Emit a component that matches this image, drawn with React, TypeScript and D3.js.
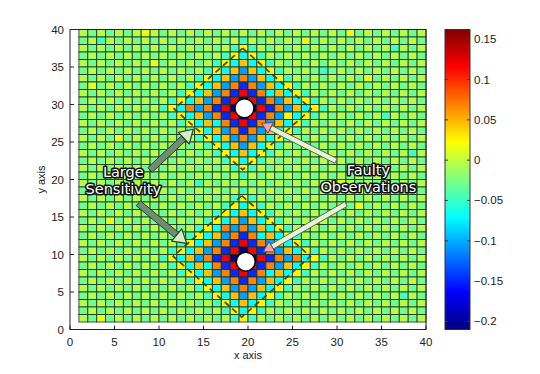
import * as d3 from 'd3'

// sensitivity map, one string per grid row, top row first (y = 39 .. 1), spaces only for reading
const gridRows = [
  'LGLGLGLyLG LGLGLGLGLG LGLGLGLGLG yGLGLGLGL',
  'GLALGLGLGL GLGLGLGLAL GLGLGyGLGL GLGLGLGLG',
  'LGLGLGLGLG LGLGLGLAYA LGLGLGLGLG LGLGLALGL',
  'GLGLGLGLGL GLGLGLAYCY ALGLGLGLGL GLGLGLGLG',
  'LGLGLGLGyG LGLGLAYCoC YALGLGLGLG LGLGLGLGL',
  'GLGLGLGLGL GLGLAYCoSo CYALGLGAGL GLGLGLGLG',
  'LGLGLGLGLG LGLAYCoSOS oCYALGLGLG LGyGLGLGL',
  'GyGLGLGLGL GLAYCoSOBO SoCYALGLGL GLGLGLGLG',
  'LGLGLGLGLG LAYCoSOBRB OCoCYALGLG LGLGLGLGL',
  'GLGLGLGLGL AYCoSOBRNR BOSoCYALGL GLGLGLGLG',
  'LGLGLGLGL AYCOSOBRNDNRBOSoCYA LGLGLGLGLGL',
  'GLGLGLGLGL AYCoSOBRNR BOSYCYALGL GLGLALGLG',
  'LGLGLGLGLG LAYCoCOBRB OSoCYALGLG LGLGLGLGL',
  'GLGLGLGLGL GLAYCoSOBO SoCYALGLGL GLGLGLGLG',
  'LGLGyGLGLG LGLAYCoSOS oCYALGLGLG LGLGLGLGL',
  'GLGLGLGLGL GLGLAYCoSo CYALGLGLGL GLGLGLGLG',
  'LGLGLGLGLG LGLGLAYCoC YALGLGLGLG LGLGLGLAL',
  'GLGLGLGLGL GLGLGLAYCY ALGLGLGLGL GLGLGLGLG',
  'LGLGLGLGLG LGLGLGLAYA LGLGLGLGLG LGLGLGLGL',
  'GLGLGLGLGL GLGLGLGLAL GLGLGLGLGL GLGLGLGLG',
  'LGLGLGLGLG LGLALGLGLG LGLGLGLGLy LGLGLGLGL',
  'GLGLGyGLGL GLGLGLGLAL GLGLGLGLGL GLGLGLGLG',
  'LGLGLGLGLG LGLGLGLAYA LGLGLGLGLG LGLGLGLGL',
  'GLGLGLGLGL GLGLGLAYCY ALGLGLGLGL GyGLGLGLG',
  'LGLGLGLGLG LGLGLAYCoC YALGLGLGLG LGLGLGLGL',
  'GLGyGLGLGL GLGLAYCoSo CYALGLGLGL GLGLGLGLG',
  'LGLGLGLGLG LGLAYCOSOS oCYALGLGLG LGLGLGLGL',
  'GLGLGLGLGL GLAYCoSOBO CoCYALGLGL GLGLGLGLG',
  'LGLGLGLGLG LAYCoSOBRB OSoCYALGLG LGLGLGLGL',
  'GLGLGLGLGL AYCoSOBRNR BOSoCYALGL GLGLGLGLG',
  'LGLGLGLGL AYCoSOBRNDNRBOSOCYA LGLGLGLGLGL',
  'GLGLGLGLGL AYCoCOBRNR BOSoCYALGL GLGLGLGLG',
  'LGLGLGLGLG LAYCoSOBRB OCoCYALGLG LGLGLGLGL',
  'GLGLGLGLGL GLAYCoSOBO SoCYALGLGL GLGLGLGLG',
  'LGLGLGLGLG LGLAYCoSOS oCYALGLGLG LGLGLGLGL',
  'GLGLGLGLGL GLGLAYCoSo CYALGLGLGL GLGLGLALG',
  'LGLGLGLGLG LGLGLAYCoC YALGLGLGLG LGLGLGLGL',
  'GLGLGLGLGL GLGLGLAYCY ALGLGLGLGL GLGLGLGLG',
  'LGyGLGLGLG LGLGLGLAYA LGLGLGLGLG LGLGLGLGL',
]

// value behind each letter
const levelValues: Record<string, number> = {
  D: 0.162, R: 0.118, O: 0.068, o: 0.045, Y: 0.026, y: 0.012, L: -0.004,
  G: -0.03, A: -0.047, C: -0.068, S: -0.105, B: -0.148, N: -0.21,
}

const xTicks = [0, 5, 10, 15, 20, 25, 30, 35, 40]
const yTicks = [0, 5, 10, 15, 20, 25, 30, 35, 40]
const cbTicks = [0.15, 0.1, 0.05, 0, -0.05, -0.1, -0.15, -0.2]

const observations = [
  { x: 19.6, y: 29.5 },
  { x: 19.75, y: 9.05 },
]

const regions = [
  { cx: 19.4, cy: 29.4, rx: 7.7, ry: 8.1 },
  { cx: 19.3, cy: 9.75, rx: 7.7, ry: 8.1 },
]

const sensitivityArrows = [
  { from: [8.99, 21.27], to: [13.85, 26.7] },
  { from: [7.67, 16.83], to: [13.11, 11.49] },
]
const faultyArrows = [
  { from: [29.89, 22.47], to: [21.54, 27.49] },
  { from: [31.01, 16.73], to: [21.72, 10.37] },
]
const notes = [
  { x: 5.99, lines: ['Large', 'Sensitivity'], y: [21.04, 18.73] },
  { x: 33.52, lines: ['Faulty', 'Observations'], y: [21.27, 19.04] },
]

const width = 540
const height = 374

const jet = (t: number) => {
  const c = (v: number) => Math.max(0, Math.min(1, v))
  return d3.rgb(255 * c(1.5 - Math.abs(4 * t - 3)), 255 * c(1.5 - Math.abs(4 * t - 2)), 255 * c(1.5 - Math.abs(4 * t - 1))).formatHex()
}

const arrowPaths = (x0: number, y0: number, x1: number, y1: number, w: number, hl: number, hw: number) => {
  const dx = x1 - x0, dy = y1 - y0, len = Math.hypot(dx, dy)
  const ux = dx / len, uy = dy / len, nx = -uy, ny = ux
  const bx = x1 - ux * hl, by = y1 - uy * hl
  const shaft = `M${x0 + nx * w},${y0 + ny * w}L${bx + nx * w},${by + ny * w}L${bx - nx * w},${by - ny * w}L${x0 - nx * w},${y0 - ny * w}Z`
  const head = `M${bx + nx * hw},${by + ny * hw}L${x1},${y1}L${bx - nx * hw},${by - ny * hw}Z`
  return { shaft, head }
}

const App = () => {
  const rows = gridRows.map(r => r.replace(/ /g, ''))
  const nRows = rows.length
  const cells = rows.flatMap((row, r) =>
    row.split('').map((ch, c) => ({ i: c + 1, j: nRows - r, value: levelValues[ch] })))

  const x = d3.scaleLinear().domain([0, 40]).range([70, 426])
  const y = d3.scaleLinear().domain([0, 40]).range([329.5, 29.5])
  const extent = d3.extent(cells, d => d.value) as [number, number]
  const color = d3.scaleSequential(jet).domain(extent)
  const cbY = d3.scaleLinear().domain(extent).range([329.5, 29.5])
  const cbX = 445, cbW = 25

  const stops = d3.range(0, 1.0001, 1 / 64)

  const labelFont = '"Liberation Sans", Arial, sans-serif'
  const noteFont = '"DejaVu Sans", sans-serif'

  return (
    <svg width={width} height={height} style={{ position: 'absolute', left: 0, top: 0, background: '#fff' }}>
      <defs>
        <linearGradient id="jetbar" x1="0" y1="1" x2="0" y2="0">
          {stops.map(t => <stop key={t} offset={t} stopColor={jet(t)} />)}
        </linearGradient>
      </defs>

      <g>
        {cells.map(d => (
          <rect key={`${d.i}-${d.j}`} x={x(d.i)} y={y(d.j + 1)} width={x(d.i + 1) - x(d.i)} height={y(d.j) - y(d.j + 1)}
            fill={color(d.value)} stroke="#1c2a1c" strokeOpacity={0.8} strokeWidth={1} />
        ))}
      </g>

      {regions.map((d, k) => (
        <path key={k}
          d={`M${x(d.cx)},${y(d.cy + d.ry)}L${x(d.cx + d.rx)},${y(d.cy)}L${x(d.cx)},${y(d.cy - d.ry)}L${x(d.cx - d.rx)},${y(d.cy)}Z`}
          fill="none" stroke="#2a4630" strokeWidth={1.8} strokeDasharray="6 4" strokeOpacity={0.9} />
      ))}

      {observations.map((d, k) => (
        <circle key={k} cx={x(d.x)} cy={y(d.y)} r={9.5} fill="#fff" stroke="#000" strokeWidth={1.5} />
      ))}

      {sensitivityArrows.map((a, k) => {
        const p = arrowPaths(x(a.from[0]), y(a.from[1]), x(a.to[0]), y(a.to[1]), 3.2, 13, 8)
        return (
          <g key={k}>
            <path d={p.shaft} fill="#6f8c74" stroke="#2f3f30" strokeWidth={1} />
            <path d={p.head} fill="#d4efc4" stroke="#2f3f30" strokeWidth={1.2} strokeLinejoin="round" />
          </g>
        )
      })}
      {faultyArrows.map((a, k) => {
        const p = arrowPaths(x(a.from[0]), y(a.from[1]), x(a.to[0]), y(a.to[1]), 2.6, 10, 6)
        return (
          <g key={k}>
            <path d={p.shaft} fill="#eaf2d6" stroke="#5a6a5a" strokeWidth={1} />
            <path d={p.head} fill="#f2a4a8" stroke="#4a5070" strokeWidth={1} strokeLinejoin="round" />
          </g>
        )
      })}

      {notes.map((n, k) => (
        <g key={k}>
          {n.lines.map((line, m) => (
            <text key={m} x={x(n.x)} y={y(n.y[m])} textAnchor="middle" dominantBaseline="central"
              fontFamily={noteFont} fontSize={14.5} fill="#fff" stroke="#111" strokeWidth={3.2}
              strokeLinejoin="round" paintOrder="stroke">{line}</text>
          ))}
        </g>
      ))}

      <rect x={x(0)} y={y(40)} width={x(40) - x(0)} height={y(0) - y(40)} fill="none" stroke="#222" strokeWidth={1} />
      {xTicks.map(t => (
        <g key={t}>
          <line x1={x(t)} x2={x(t)} y1={y(0)} y2={y(0) - 4} stroke="#222" />
          <text x={x(t)} y={346} textAnchor="middle" fontFamily={labelFont} fontSize={11.5} fill="#222">{t}</text>
        </g>
      ))}
      {yTicks.map(t => (
        <g key={t}>
          <line x1={x(0)} x2={x(0) + 4} y1={y(t)} y2={y(t)} stroke="#222" />
          <text x={64} y={y(t)} textAnchor="end" dominantBaseline="central" fontFamily={labelFont} fontSize={11.5} fill="#222">{t}</text>
        </g>
      ))}
      <text x={x(20)} y={359} textAnchor="middle" fontFamily={labelFont} fontSize={11} fill="#222">x axis</text>
      <text transform={`translate(45,${y(20)}) rotate(-90)`} textAnchor="middle" fontFamily={labelFont} fontSize={11} fill="#222">y axis</text>

      <rect x={cbX} y={cbY(extent[1])} width={cbW} height={cbY(extent[0]) - cbY(extent[1])} fill="url(#jetbar)" stroke="#333" strokeWidth={1} />
      {cbTicks.map(t => (
        <g key={t}>
          <line x1={cbX} x2={cbX + 3} y1={cbY(t)} y2={cbY(t)} stroke="#333" />
          <line x1={cbX + cbW - 3} x2={cbX + cbW} y1={cbY(t)} y2={cbY(t)} stroke="#333" />
          <text x={cbX + cbW + 4} y={cbY(t)} dominantBaseline="central" fontFamily={labelFont} fontSize={11.5} fill="#222">
            {t === 0 ? '0' : d3.format('.2~f')(t).replace('-', '\u2212')}
          </text>
        </g>
      ))}
    </svg>
  )
}

export default App
